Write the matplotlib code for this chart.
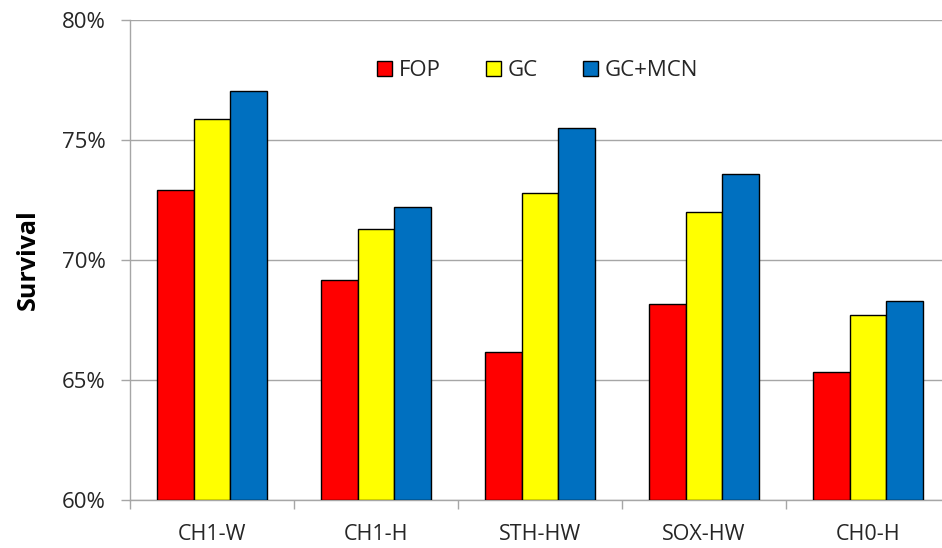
import numpy as np
import matplotlib.pyplot as plt

plt.rcParams['font.family'] = ['Open Sans', 'DejaVu Sans']

sites = ['CH1-W', 'CH1-H', 'STH-HW', 'SOX-HW', 'CH0-H']
fop = [72.93, 69.15, 66.15, 68.18, 65.35]
gc = [75.89, 71.28, 72.78, 71.98, 67.70]
gc_mcn = [77.06, 72.19, 75.51, 73.59, 68.29]

series = [('FOP', fop, '#ff0000'),
          ('GC', gc, '#ffff00'),
          ('GC+MCN', gc_mcn, '#0070c0')]

fig = plt.figure(figsize=(9.42, 5.48), dpi=100)
# plot area runs a little past the right edge of the figure
ax = fig.add_axes([130 / 942, 48 / 548, 820 / 942, 480 / 548])

x = np.arange(len(sites))
w = 0.225
for i, (name, vals, col) in enumerate(series):
    ax.bar(x + (i - 1) * w, np.array(vals) - 60, width=w, bottom=60,
           color=col, edgecolor='black', linewidth=1.0, label=name, zorder=3)

ax.set_ylim(60, 80)
ax.set_xlim(-0.5, len(sites) - 0.5)
ax.set_yticks([60, 65, 70, 75, 80])
ax.set_yticklabels(['60%', '65%', '70%', '75%', '80%'])
ax.yaxis.grid(True, color='#a6a6a6', linewidth=1.0, zorder=0)

ax.set_xticks(x)
ax.set_xticklabels(sites)
ax.set_xticks(np.arange(-0.5, len(sites)), minor=True)
ax.tick_params(axis='x', which='major', length=0, pad=17.5, labelsize=15.5,
               labelcolor='#262626')
ax.tick_params(axis='x', which='minor', length=6.5, color='#a6a6a6', width=1)
ax.tick_params(axis='y', length=6.5, color='#a6a6a6', width=1, pad=11,
               labelsize=16, labelcolor='#262626')

for s in ['top', 'right']:
    ax.spines[s].set_visible(False)
for s in ['left', 'bottom']:
    ax.spines[s].set_color('#a6a6a6')
    ax.spines[s].set_linewidth(1.0)

ax.set_ylabel('Survival', fontsize=18, fontweight='bold', labelpad=15)

ax.legend(loc='center', bbox_to_anchor=(0.497, 0.894), ncol=3, frameon=False,
          fontsize=16, handlelength=0.68, handleheight=0.68, handletextpad=0.3,
          columnspacing=2.05, labelcolor='#262626')

fig.savefig('out.png', dpi=100)
